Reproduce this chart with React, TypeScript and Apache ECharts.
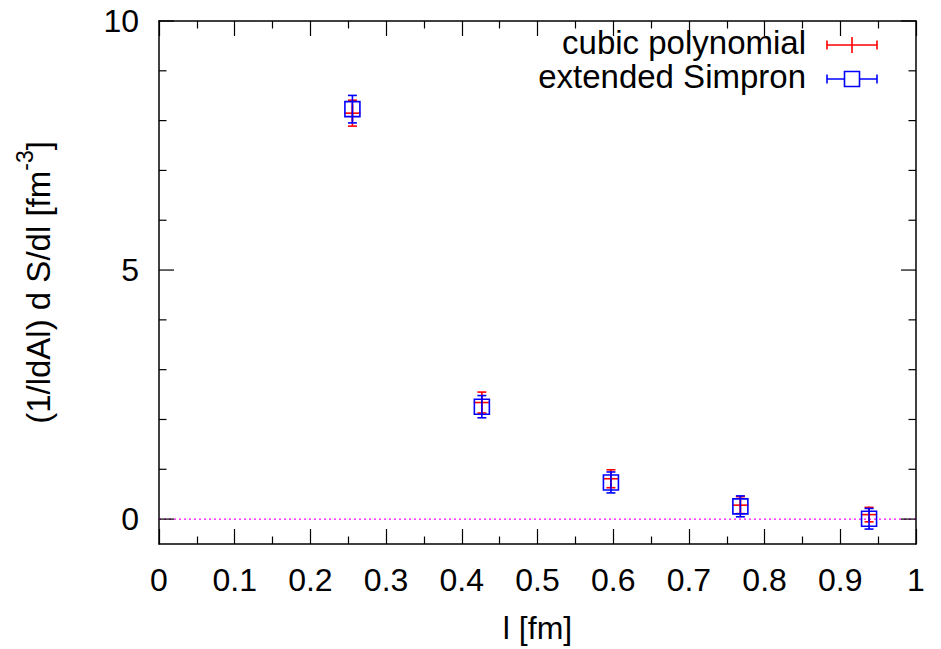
import React, { useEffect, useRef } from "react";
import * as echarts from "echarts";

const xValues = [0.2555, 0.4265, 0.597, 0.768, 0.938];
const cubicY = [8.15, 2.34, 0.81, 0.28, 0.09];
const cubicErr = [0.26, 0.21, 0.18, 0.17, 0.145];
const simpronY = [8.23, 2.257, 0.736, 0.256, 0.007];
const simpronErr = [0.276, 0.223, 0.21, 0.21, 0.207];
const yTickValues = [0, 1, 2, 3, 4, 5, 6, 7, 8, 9, 10];
const yMajorLabels = [0, 5, 10];
const zeroLine = [[0, 0], [1, 0]];

const FONT = "'Liberation Sans', Arial, Helvetica, sans-serif";

function errRender(kind: "plus" | "box", color: string) {
  return (params: any, api: any) => {
    const x = api.value(0);
    const y = api.value(1);
    const e = api.value(2);
    const c = api.coord([x, y]);
    const hi = api.coord([x, y + e]);
    const lo = api.coord([x, y - e]);
    const cap = 4.5;
    const st = { stroke: color, lineWidth: 1.6, fill: "none" };
    const children: any[] = [
      { type: "line", shape: { x1: c[0], y1: hi[1], x2: c[0], y2: lo[1] }, style: st },
      { type: "line", shape: { x1: c[0] - cap, y1: hi[1], x2: c[0] + cap, y2: hi[1] }, style: st },
      { type: "line", shape: { x1: c[0] - cap, y1: lo[1], x2: c[0] + cap, y2: lo[1] }, style: st },
    ];
    if (kind === "plus") {
      children.push(
        { type: "line", shape: { x1: c[0] - 8, y1: c[1], x2: c[0] + 8, y2: c[1] }, style: st },
        { type: "line", shape: { x1: c[0], y1: c[1] - 8, x2: c[0], y2: c[1] + 8 }, style: st }
      );
    } else {
      children.push({
        type: "rect",
        shape: { x: c[0] - 7.5, y: c[1] - 7.5, width: 15, height: 15 },
        style: { stroke: color, lineWidth: 1.6, fill: "none" },
      });
    }
    return { type: "group", children };
  };
}

export default function App() {
  const ref = useRef<HTMLDivElement>(null);
  useEffect(() => {
    if (!ref.current) return;
    const chart = echarts.init(ref.current, undefined, { renderer: "svg" });
    const cubicData = xValues.map((x, i) => [x, cubicY[i], cubicErr[i]]);
    const simpData = xValues.map((x, i) => [x, simpronY[i], simpronErr[i]]);
    const axisLine = { show: true, onZero: false, lineStyle: { color: "#000", width: 1.5 } };
    const legendX1 = 827;
    const legendX2 = 877;
    const lc = 852;
    const r1 = 45;
    const r2 = 79;
    chart.setOption({
      animation: false,
      backgroundColor: "#fff",
      grid: { left: 159, top: 21, width: 757, height: 524, containLabel: false },
      xAxis: [
        {
          type: "value",
          min: 0,
          max: 1,
          interval: 0.1,
          position: "bottom",
          axisLine,
          axisTick: { show: true, inside: true, length: 15, lineStyle: { color: "#000", width: 1.2 } },
          minorTick: { show: true, splitNumber: 2, length: 7.5, lineStyle: { color: "#000", width: 1.2 } },
          splitLine: { show: false },
          axisLabel: {
            color: "#000",
            fontSize: 32,
            fontFamily: FONT,
            margin: 20,
            formatter: (v: number) => String(Math.round(v * 10) / 10),
          },
          name: "l [fm]",
          nameLocation: "middle",
          nameGap: 68,
          nameTextStyle: { color: "#000", fontSize: 32, fontFamily: FONT },
        },
        {
          type: "value",
          min: 0,
          max: 1,
          interval: 0.1,
          position: "top",
          axisLine,
          axisTick: { show: true, inside: true, length: 15, lineStyle: { color: "#000", width: 1.2 } },
          minorTick: { show: true, splitNumber: 2, length: 7.5, lineStyle: { color: "#000", width: 1.2 } },
          splitLine: { show: false },
          axisLabel: { show: false },
        },
      ],
      yAxis: [
        {
          type: "value",
          min: -0.5,
          max: 10,
          interval: 0.5,
          position: "left",
          axisLine,
          axisTick: { show: false },
          splitLine: { show: false },
          axisLabel: {
            color: "#000",
            fontSize: 32,
            fontFamily: FONT,
            margin: 20,
            formatter: (v: number) => (yMajorLabels.indexOf(v) >= 0 ? String(v) : ""),
          },
          name: "{m|(1/ldAl) d S/dl [fm}{s|-3}{m|]}",
          nameLocation: "middle",
          nameGap: 104,
          nameRotate: 90,
          nameTextStyle: {
            color: "#000",
            fontFamily: FONT,
            rich: {
              m: { fontSize: 33, fontFamily: FONT, color: "#000", lineHeight: 42, verticalAlign: "bottom" },
              s: { fontSize: 23, fontFamily: FONT, color: "#000", lineHeight: 42, verticalAlign: "top" },
            },
          },
        },
        {
          type: "value",
          min: -0.5,
          max: 10,
          interval: 0.5,
          position: "right",
          axisLine,
          axisTick: { show: false },
          splitLine: { show: false },
          axisLabel: { show: false },
        },
      ],
      graphic: [
        {
          type: "text",
          right: 941 - 806,
          top: r1 - 19,
          style: { text: "cubic polynomial", fontSize: 33, fontFamily: FONT, fill: "#000", align: "right" },
        },
        {
          type: "text",
          right: 941 - 806,
          top: r2 - 19,
          style: { text: "extended Simpron", fontSize: 33, fontFamily: FONT, fill: "#000", align: "right" },
        },
        { type: "line", shape: { x1: legendX1, y1: r1, x2: legendX2, y2: r1 }, style: { stroke: "#f00", lineWidth: 1.6 } },
        { type: "line", shape: { x1: legendX1, y1: r1 - 4.5, x2: legendX1, y2: r1 + 4.5 }, style: { stroke: "#f00", lineWidth: 1.6 } },
        { type: "line", shape: { x1: legendX2, y1: r1 - 4.5, x2: legendX2, y2: r1 + 4.5 }, style: { stroke: "#f00", lineWidth: 1.6 } },
        { type: "line", shape: { x1: lc, y1: r1 - 8, x2: lc, y2: r1 + 8 }, style: { stroke: "#f00", lineWidth: 1.6 } },
        { type: "line", shape: { x1: legendX1, y1: r2, x2: legendX2, y2: r2 }, style: { stroke: "#00f", lineWidth: 1.6 } },
        { type: "line", shape: { x1: legendX1, y1: r2 - 4.5, x2: legendX1, y2: r2 + 4.5 }, style: { stroke: "#00f", lineWidth: 1.6 } },
        { type: "line", shape: { x1: legendX2, y1: r2 - 4.5, x2: legendX2, y2: r2 + 4.5 }, style: { stroke: "#00f", lineWidth: 1.6 } },
        { type: "rect", shape: { x: lc - 7.5, y: r2 - 7.5, width: 15, height: 15 }, style: { stroke: "#00f", lineWidth: 1.6, fill: "#fff" } },
      ],
      series: [
        {
          type: "line",
          name: "zero",
          xAxisIndex: 0,
          yAxisIndex: 0,
          data: zeroLine,
          showSymbol: false,
          symbol: "none",
          lineStyle: { color: "#ff00ff", width: 1.4, type: [2, 3] },
          z: 1,
        },
        {
          type: "custom",
          name: "yticks",
          xAxisIndex: 0,
          yAxisIndex: 0,
          data: yTickValues.map((v) => [0, v]),
          clip: false,
          renderItem: (params: any, api: any) => {
            const y = api.value(1);
            const l = api.coord([0, y]);
            const r = api.coord([1, y]);
            const len = y % 5 === 0 ? 15 : 7.5;
            const st = { stroke: "#000", lineWidth: 1.2 };
            return {
              type: "group",
              children: [
                { type: "line", shape: { x1: l[0], y1: l[1], x2: l[0] + len, y2: l[1] }, style: st },
                { type: "line", shape: { x1: r[0], y1: r[1], x2: r[0] - len, y2: r[1] }, style: st },
              ],
            };
          },
          z: 2,
        },
        {
          type: "custom",
          name: "cubic polynomial",
          xAxisIndex: 0,
          yAxisIndex: 0,
          data: cubicData,
          renderItem: errRender("plus", "#ff0000"),
          z: 3,
        },
        {
          type: "custom",
          name: "extended Simpron",
          xAxisIndex: 0,
          yAxisIndex: 0,
          data: simpData,
          renderItem: errRender("box", "#0000ff"),
          z: 4,
        },
      ],
    });
    return () => chart.dispose();
  }, []);
  return (
    <div
      ref={ref}
      style={{ position: "fixed", left: 0, top: 0, width: 941, height: 649, background: "#fff" }}
    />
  );
}
